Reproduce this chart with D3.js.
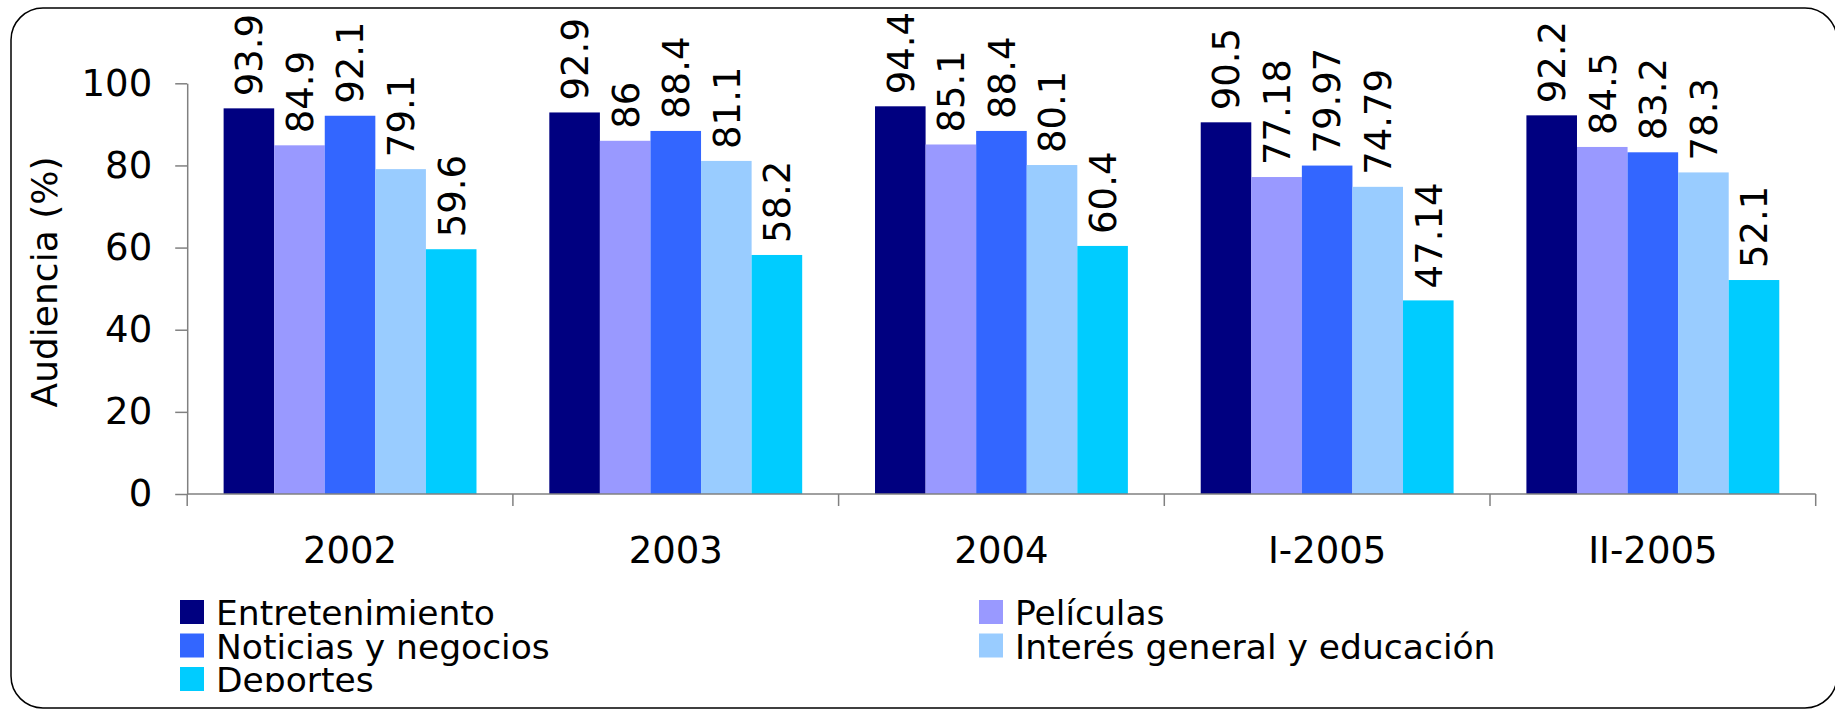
<!DOCTYPE html>
<html>
<head>
<meta charset="utf-8">
<script src="https://cdn.jsdelivr.net/npm/d3@7"></script>
<style>
  html, body { margin: 0; padding: 0; background: #fff; }
  svg { display: block; font-family: "DejaVu Sans", Verdana, sans-serif; }
</style>
</head>
<body>
<svg id="chart" width="1835" height="712"></svg>
<script>
const categories = ["2002", "2003", "2004", "I-2005", "II-2005"];
const seriesNames = ["Entretenimiento", "Películas", "Noticias y negocios", "Interés general y educación", "Deportes"];
const entretenimiento = [93.9, 92.9, 94.4, 90.5, 92.2];
const peliculas = [84.9, 86, 85.1, 77.18, 84.5];
const noticias = [92.1, 88.4, 88.4, 79.97, 83.2];
const interesGeneral = [79.1, 81.1, 80.1, 74.79, 78.3];
const deportes = [59.6, 58.2, 60.4, 47.14, 52.1];
const yTicks = [0, 20, 40, 60, 80, 100];
const yTitle = "Audiencia (%)";
const colors = ["#000080", "#9999FF", "#3366FF", "#99CCFF", "#00CCFF"];

const seriesValues = [entretenimiento, peliculas, noticias, interesGeneral, deportes];
const svg = d3.select("#chart");

// frame
svg.append("rect")
  .attr("x", 11).attr("y", 8).attr("width", 1826).attr("height", 700)
  .attr("rx", 32).attr("ry", 32)
  .attr("fill", "none").attr("stroke", "#000").attr("stroke-width", 1.5);

const x0 = d3.scaleBand().domain(categories).range([187.2, 1815.7]).paddingInner(0).paddingOuter(0);
const x1 = d3.scaleBand().domain(seriesNames).range([0, x0.bandwidth()]).paddingInner(0).paddingOuter(0.72);
const y = d3.scaleLinear().domain([0, 100]).range([494, 83.3]);

// bars
const groups = svg.append("g").selectAll("g")
  .data(categories).join("g")
  .attr("transform", c => `translate(${x0(c)},0)`);

groups.each(function(c, ci) {
  const g = d3.select(this);
  seriesNames.forEach((s, si) => {
    const v = seriesValues[si][ci];
    g.append("rect")
      .attr("x", x1(s)).attr("width", x1.bandwidth())
      .attr("y", y(v)).attr("height", y(0) - y(v))
      .attr("fill", colors[si]);
    g.append("text")
      .attr("transform", `translate(${x1(s) + x1.bandwidth() / 2},${y(v) - 12}) rotate(-90)`)
      .attr("dy", "0.36em")
      .attr("text-anchor", "start")
      .attr("font-size", 37)
      .attr("fill", "#000")
      .text(String(v));
  });
});

// y axis
const yAxis = d3.axisLeft(y).tickValues(yTicks).tickSize(12).tickSizeOuter(0).tickPadding(23);
const ya = svg.append("g").attr("transform", "translate(187.2,0)").call(yAxis);
ya.select(".domain").attr("stroke", "#808080").attr("stroke-width", 1.5);
ya.selectAll(".tick line").attr("stroke", "#808080").attr("stroke-width", 1.5);
ya.selectAll(".tick text").attr("font-size", 37).attr("font-family", "DejaVu Sans, Verdana, sans-serif").attr("fill", "#000");

// x axis
const xa = svg.append("g");
xa.append("line")
  .attr("x1", x0.range()[0]).attr("x2", x0.range()[1])
  .attr("y1", y(0)).attr("y2", y(0))
  .attr("stroke", "#808080").attr("stroke-width", 1.5);
const bounds = categories.map(c => x0(c)).concat([x0.range()[1]]);
xa.selectAll("line.tk").data(bounds).join("line")
  .attr("class", "tk")
  .attr("x1", d => d).attr("x2", d => d)
  .attr("y1", y(0)).attr("y2", y(0) + 12)
  .attr("stroke", "#808080").attr("stroke-width", 1.5);
xa.selectAll("text").data(categories).join("text")
  .attr("x", c => x0(c) + x0.bandwidth() / 2)
  .attr("y", 562.5)
  .attr("text-anchor", "middle")
  .attr("font-size", 37)
  .text(c => c);

// y title
svg.append("text")
  .attr("transform", "translate(57,282) rotate(-90)")
  .attr("text-anchor", "middle")
  .attr("font-size", 36)
  .text(yTitle);

// legend (clipped at bottom like the original)
svg.append("clipPath").attr("id", "legclip")
  .append("rect").attr("x", 0).attr("y", 580).attr("width", 1835).attr("height", 112);
const leg = svg.append("g").attr("clip-path", "url(#legclip)");
const legendPos = [
  {x: 180, row: 0}, {x: 979, row: 0},
  {x: 180, row: 1}, {x: 979, row: 1},
  {x: 180, row: 2}
];
seriesNames.forEach((s, i) => {
  const p = legendPos[i];
  const top = 600 + p.row * 33.5;
  leg.append("rect").attr("x", p.x).attr("y", top).attr("width", 24).attr("height", 24)
    .attr("fill", colors[i]);
  leg.append("text").attr("x", p.x + 36).attr("y", top + 25)
    .attr("font-size", 34.5).text(s);
});
</script>
</body>
</html>
